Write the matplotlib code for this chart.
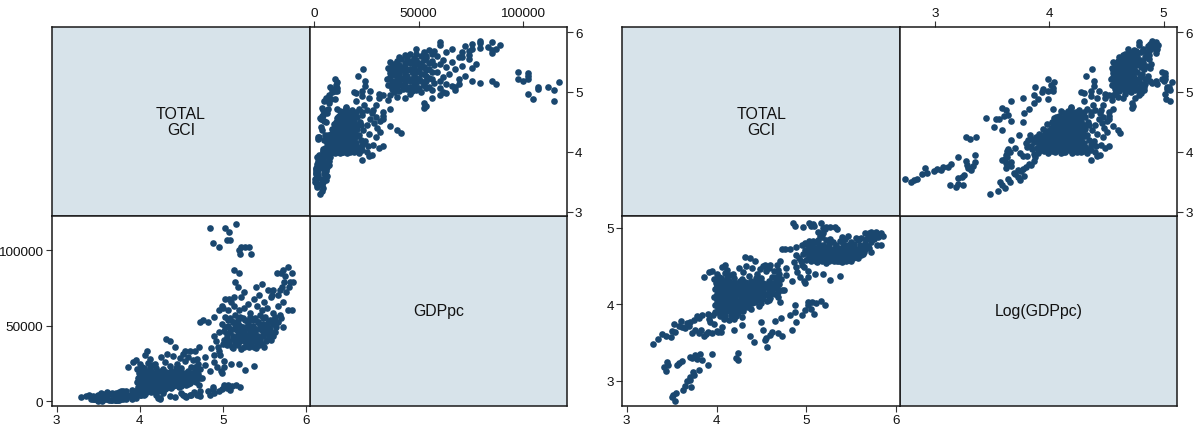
import numpy as np
import matplotlib
matplotlib.use("Agg")
import matplotlib.pyplot as plt

plt.rcParams['font.family'] = ['Liberation Sans', 'DejaVu Sans']

# (TOTAL GCI score, log10 of GDP per capita) for each country-year,
# written out region by region of the point cloud.
low_band = [
    (3.29, 3.48), (3.35, 3.55), (3.39, 3.61), (3.44, 3.58), (3.49, 3.57), (3.50, 3.65),
    (3.54, 3.64), (3.53, 3.74), (3.58, 3.72), (3.60, 3.78), (3.62, 3.70), (3.65, 3.69),
    (3.67, 3.75), (3.69, 3.72), (3.71, 3.77), (3.73, 3.62), (3.75, 3.79), (3.76, 3.66),
    (3.78, 3.84), (3.80, 3.82), (3.83, 3.66), (3.84, 3.86), (3.86, 3.58), (3.88, 3.61),
    (3.91, 3.63), (3.93, 3.77), (3.95, 3.62), (3.96, 3.86), (3.92, 3.80), (3.98, 3.90),
    (4.00, 3.65), (4.05, 3.64), (3.81, 3.62), (3.97, 3.74), (3.91, 3.87), (4.02, 3.63),
    (4.06, 3.70),
]
low_streak = [
    (3.41, 3.18), (3.44, 3.13), (3.46, 3.20), (3.45, 3.24), (3.56, 3.20), (3.58, 3.23),
    (3.61, 3.25), (3.70, 3.31), (3.73, 3.29), (3.76, 3.33), (3.78, 3.28), (3.82, 3.35),
    (3.84, 3.27), (3.91, 3.20), (3.95, 3.35), (3.80, 3.14), (3.74, 3.11), (3.75, 3.07),
    (3.70, 3.05), (3.71, 3.01), (3.67, 2.99), (3.65, 2.93), (3.63, 2.88), (3.72, 2.91),
    (3.50, 2.79), (3.52, 2.81), (3.54, 2.73), (3.55, 2.84), (4.22, 3.30), (4.24, 3.36),
    (4.24, 3.27),
]
mid_band = [
    (3.86, 4.36), (3.92, 4.42), (3.95, 4.44), (3.99, 4.28), (4.00, 4.40), (4.03, 4.36),
    (4.06, 4.49), (4.09, 4.52), (4.12, 4.45), (3.97, 4.33), (4.15, 4.38),
]
core = [
    (4.10, 4.41), (4.18, 4.39), (4.30, 4.42), (4.45, 4.40), (4.55, 4.43),
    (4.05, 4.34), (4.12, 4.36), (4.20, 4.35), (4.28, 4.33), (4.36, 4.37), (4.44, 4.35),
    (4.50, 4.34), (4.62, 4.36),
    (4.02, 4.29), (4.08, 4.31), (4.14, 4.30), (4.20, 4.28), (4.26, 4.31), (4.32, 4.29),
    (4.38, 4.31), (4.45, 4.30), (4.52, 4.28), (4.58, 4.31), (4.66, 4.30),
    (4.00, 4.24), (4.06, 4.26), (4.12, 4.25), (4.18, 4.23), (4.24, 4.26), (4.30, 4.24),
    (4.36, 4.25), (4.42, 4.26), (4.48, 4.24), (4.54, 4.25), (4.60, 4.23), (4.70, 4.26),
    (3.98, 4.20), (4.04, 4.19), (4.10, 4.21), (4.16, 4.20), (4.22, 4.18), (4.28, 4.21),
    (4.34, 4.20), (4.40, 4.19), (4.46, 4.21), (4.52, 4.19), (4.58, 4.20), (4.64, 4.21),
    (4.75, 4.19),
    (4.00, 4.14), (4.06, 4.16), (4.12, 4.15), (4.18, 4.13), (4.24, 4.16), (4.30, 4.15),
    (4.36, 4.14), (4.42, 4.16), (4.48, 4.15), (4.55, 4.13), (4.62, 4.15),
    (3.97, 4.10), (4.03, 4.09), (4.09, 4.11), (4.15, 4.10), (4.21, 4.08), (4.27, 4.11),
    (4.33, 4.10), (4.39, 4.09), (4.45, 4.11), (4.52, 4.10), (4.60, 4.08), (4.68, 4.10),
    (4.00, 4.05), (4.06, 4.04), (4.12, 4.06), (4.18, 4.05), (4.24, 4.03), (4.30, 4.06),
    (4.36, 4.05), (4.42, 4.04), (4.48, 4.06), (4.56, 4.04),
    (3.98, 3.99), (4.04, 4.01), (4.10, 4.00), (4.16, 3.98), (4.22, 4.01), (4.28, 4.00),
    (4.34, 3.99), (4.40, 4.01), (4.47, 3.98),
    (4.02, 3.95), (4.08, 3.94), (4.14, 3.96), (4.20, 3.95), (4.26, 3.93), (4.32, 3.96),
    (4.38, 3.94),
    (4.00, 3.90), (4.06, 3.89), (4.12, 3.91), (4.18, 3.90), (4.24, 3.88), (4.30, 3.91),
    (4.04, 3.85), (4.10, 3.84), (4.16, 3.86), (4.22, 3.85), (4.28, 3.83),
    (4.08, 3.80), (4.14, 3.79), (4.20, 3.81),
    (4.25, 4.47), (4.33, 4.50), (4.40, 4.48), (4.48, 4.46), (4.52, 4.50), (4.58, 4.47),
    (4.64, 4.44), (4.70, 4.40), (4.66, 4.36), (4.72, 4.33), (4.78, 4.38),
]
core_inner = [
    (4.05, 4.27), (4.11, 4.28), (4.17, 4.26), (4.23, 4.28), (4.29, 4.27), (4.35, 4.28),
    (4.41, 4.27), (4.48, 4.28), (4.56, 4.27), (4.63, 4.28),
    (4.01, 4.22), (4.07, 4.23), (4.13, 4.21), (4.19, 4.22), (4.25, 4.23), (4.31, 4.21),
    (4.37, 4.22), (4.43, 4.23), (4.49, 4.22), (4.56, 4.22), (4.67, 4.23),
    (4.03, 4.17), (4.09, 4.18), (4.15, 4.16), (4.21, 4.17), (4.27, 4.18), (4.33, 4.17),
    (4.39, 4.16), (4.45, 4.18), (4.51, 4.17), (4.60, 4.17), (4.68, 4.16),
    (4.00, 4.12), (4.06, 4.13), (4.12, 4.12), (4.18, 4.11), (4.24, 4.13), (4.30, 4.12),
    (4.36, 4.11), (4.42, 4.13), (4.49, 4.12), (4.57, 4.12), (4.65, 4.13),
    (4.03, 4.07), (4.09, 4.08), (4.15, 4.06), (4.21, 4.07), (4.27, 4.08), (4.33, 4.07),
    (4.39, 4.06), (4.45, 4.08), (4.51, 4.07), (4.58, 4.06),
    (4.01, 4.02), (4.07, 4.03), (4.13, 4.01), (4.19, 4.02), (4.25, 4.03), (4.31, 4.02),
    (4.37, 4.01), (4.43, 4.03), (4.50, 4.02),
    (4.05, 3.97), (4.11, 3.98), (4.17, 3.96), (4.23, 3.97), (4.29, 3.98), (4.35, 3.97),
    (4.03, 3.92), (4.09, 3.93), (4.15, 3.92), (4.21, 3.93), (4.27, 3.92),
]
core_fringe = [
    (4.32, 4.62), (4.37, 4.60), (4.43, 4.56), (4.54, 4.52), (4.60, 4.52), (4.67, 4.52),
    (4.71, 4.56), (4.78, 4.47), (4.69, 4.45), (4.63, 4.25), (4.71, 4.03), (4.73, 4.19),
    (4.28, 3.73), (4.19, 3.66),
]
lower_right = [
    (4.37, 3.58), (4.42, 3.51), (4.50, 3.77), (4.52, 3.66), (4.54, 3.53), (4.56, 3.44),
    (4.60, 3.60), (4.65, 3.78), (4.69, 3.62), (4.73, 3.58), (4.72, 3.82), (4.82, 3.86),
    (4.84, 3.66), (4.88, 3.90), (4.89, 3.77), (4.95, 3.86), (4.99, 3.93), (4.88, 3.99),
    (4.55, 3.56), (4.62, 3.64),
]
upper_middle = [
    (4.73, 4.72), (4.76, 4.73), (4.82, 4.72), (4.89, 4.75), (4.95, 4.78), (4.985, 4.80),
    (4.94, 4.56), (4.97, 4.49), (5.02, 4.43), (4.93, 4.36), (4.99, 4.28), (5.02, 4.36),
    (4.98, 4.30), (4.84, 4.30), (4.89, 4.49), (4.89, 4.64), (4.92, 4.60), (4.95, 4.52),
    (4.90, 4.42), (4.96, 4.66), (5.00, 4.58), (4.86, 4.55),
]
below_high = [
    (5.10, 4.39), (5.19, 4.39), (5.27, 4.32), (5.38, 4.37), (5.06, 4.03), (5.16, 4.04),
    (5.21, 3.99), (5.02, 3.99), (5.05, 3.94), (5.09, 3.87), (5.11, 4.01), (5.02, 4.03),
]
high_core = [
    (5.18, 4.88), (5.26, 4.86), (5.47, 4.89), (5.55, 4.87),
    (5.03, 4.83), (5.10, 4.82), (5.22, 4.84), (5.30, 4.81), (5.38, 4.83), (5.50, 4.82),
    (5.58, 4.84),
    (5.00, 4.79), (5.06, 4.78), (5.13, 4.80), (5.19, 4.78), (5.25, 4.79), (5.33, 4.77),
    (5.41, 4.80), (5.47, 4.78), (5.53, 4.79), (5.60, 4.77),
    (5.03, 4.75), (5.09, 4.74), (5.15, 4.76), (5.21, 4.75), (5.27, 4.73), (5.33, 4.75),
    (5.39, 4.74), (5.45, 4.76), (5.51, 4.75), (5.57, 4.73), (5.63, 4.75),
    (4.99, 4.71), (5.06, 4.70), (5.12, 4.72), (5.18, 4.71), (5.24, 4.69), (5.30, 4.71),
    (5.36, 4.70), (5.42, 4.72), (5.48, 4.71), (5.54, 4.69), (5.60, 4.71),
    (5.02, 4.67), (5.09, 4.66), (5.15, 4.68), (5.21, 4.67), (5.27, 4.65), (5.33, 4.67),
    (5.39, 4.66), (5.45, 4.68), (5.51, 4.67), (5.57, 4.65),
    (5.05, 4.63), (5.12, 4.62), (5.18, 4.64), (5.24, 4.63), (5.30, 4.61), (5.36, 4.63),
    (5.42, 4.62), (5.48, 4.64), (5.55, 4.62),
    (5.08, 4.59), (5.15, 4.58), (5.21, 4.60), (5.28, 4.59), (5.34, 4.57), (5.41, 4.59),
    (5.47, 4.58),
    (5.12, 4.55), (5.22, 4.54), (5.31, 4.56), (5.40, 4.55),
]
high_inner = [
    (5.05, 4.57), (5.11, 4.56), (5.18, 4.57), (5.25, 4.56), (5.31, 4.58), (5.37, 4.56),
    (5.44, 4.57), (5.50, 4.56),
    (5.02, 4.61), (5.08, 4.60), (5.15, 4.61), (5.21, 4.62), (5.27, 4.60), (5.33, 4.61),
    (5.39, 4.60), (5.45, 4.61), (5.52, 4.60), (5.58, 4.61),
    (5.05, 4.65), (5.12, 4.64), (5.18, 4.66), (5.24, 4.65), (5.30, 4.64), (5.36, 4.65),
    (5.42, 4.64), (5.48, 4.66), (5.54, 4.65), (5.61, 4.64),
    (5.03, 4.69), (5.09, 4.68), (5.15, 4.69), (5.21, 4.70), (5.27, 4.68), (5.33, 4.69),
    (5.39, 4.68), (5.45, 4.70), (5.51, 4.69), (5.57, 4.68), (5.64, 4.69),
    (5.06, 4.73), (5.12, 4.72), (5.18, 4.73), (5.24, 4.74), (5.30, 4.72), (5.36, 4.73),
    (5.42, 4.72), (5.48, 4.74), (5.54, 4.72), (5.60, 4.73), (5.66, 4.72),
    (5.66, 4.80), (5.72, 4.82), (5.76, 4.86), (5.80, 4.88), (5.74, 4.90), (5.78, 4.95),
    (5.83, 4.93), (5.64, 4.72), (5.70, 4.74),
]
top_outliers = [
    (4.85, 5.06), (5.03, 5.06), (5.08, 5.05), (5.16, 5.07), (4.88, 5.02), (4.96, 5.01),
    (5.05, 5.03), (5.09, 5.03), (5.22, 5.01), (5.19, 5.00), (5.27, 5.01), (5.32, 5.01),
    (5.21, 4.99), (5.34, 4.99), (5.13, 4.94), (5.19, 4.93), (5.15, 4.90), (5.65, 4.93),
    (5.72, 4.94), (5.70, 4.93), (5.75, 4.92), (5.81, 4.90), (5.85, 4.90), (5.40, 4.88),
    (5.43, 4.85), (5.61, 4.87), (5.59, 4.85), (5.13, 4.84), (5.08, 4.83), (5.83, 4.78),
    (5.69, 4.76), (5.63, 4.66), (5.72, 4.69), (5.79, 4.78), (5.67, 4.85), (5.69, 4.87),
    (5.71, 4.88),
]

points = np.array(low_band + low_streak + mid_band + core + core_inner + core_fringe
                  + lower_right + upper_middle + below_high + high_core + high_inner
                  + top_outliers)
gci = points[:, 0]
log_gdppc = points[:, 1]
gdppc = 10 ** log_gdppc

gci_ticks = [3, 4, 5, 6]
gdppc_ticks = [0, 50000, 100000]
log_ticks_lower = [3, 4, 5]
log_ticks_upper = [3, 4, 5]

NAVY = '#1a476f'
DIAG = '#d7e3ea'
EDGE = '#1a1a1a'

W, H = 1197, 427
fig = plt.figure(figsize=(W / 100, H / 100), dpi=100)


def cell(x0, x1, y0, y1):
    ax = fig.add_axes([x0 / W, 1 - y1 / H, (x1 - x0) / W, (y1 - y0) / H])
    for s in ax.spines.values():
        s.set_color(EDGE)
        s.set_linewidth(1.1)
    ax.tick_params(direction='out', length=4, width=0.8, color='#333333',
                   labelsize=9.7, pad=2, labelcolor='#111111')
    return ax


def diag(ax, label):
    ax.set_facecolor(DIAG)
    ax.set_xticks([])
    ax.set_yticks([])
    ax.text(0.5, 0.5, label, transform=ax.transAxes, ha='center', va='center',
            fontsize=11.4, linespacing=1.05, color='#111111')


def scatter(ax, x, y):
    ax.scatter(x, y, s=23, color=NAVY, linewidths=0, zorder=3)


# ---- left matrix: TOTAL GCI vs GDPpc ----
c0, c1, c2 = 51.7, 310.0, 566.7
r0, r1, r2 = 28.3, 216.7, 406.7

ax = cell(c0, c1, r0, r1)
diag(ax, 'TOTAL\nGCI')
ax = cell(c1, c2, r1, r2)
diag(ax, 'GDPpc')

ax = cell(c0, c1, r1, r2)
scatter(ax, gci, gdppc)
ax.set_xlim(2.94, 6.05)
ax.set_ylim(-2800, 123000)
ax.set_xticks(gci_ticks)
ax.set_yticks(gdppc_ticks)

ax = cell(c1, c2, r0, r1)
scatter(ax, gdppc, gci)
ax.set_xlim(-2000, 121000)
ax.set_ylim(2.93, 6.08)
ax.set_xticks(gdppc_ticks)
ax.set_yticks(gci_ticks)
ax.xaxis.tick_top()
ax.yaxis.tick_right()

# ---- right matrix: TOTAL GCI vs Log(GDPpc) ----
d0, d1, d2 = 622.3, 900.0, 1177.3

ax = cell(d0, d1, r0, r1)
diag(ax, 'TOTAL\nGCI')
ax = cell(d1, d2, r1, r2)
diag(ax, 'Log(GDPpc)')

ax = cell(d0, d1, r1, r2)
scatter(ax, gci, log_gdppc)
ax.set_xlim(2.95, 6.045)
ax.set_ylim(2.67, 5.16)
ax.set_xticks(gci_ticks)
ax.set_yticks(log_ticks_lower)

ax = cell(d1, d2, r0, r1)
scatter(ax, log_gdppc, gci)
ax.set_xlim(2.69, 5.12)
ax.set_ylim(2.93, 6.08)
ax.set_xticks(log_ticks_upper)
ax.set_yticks(gci_ticks)
ax.xaxis.tick_top()
ax.yaxis.tick_right()

fig.savefig('out.png', dpi=100, facecolor='white')
